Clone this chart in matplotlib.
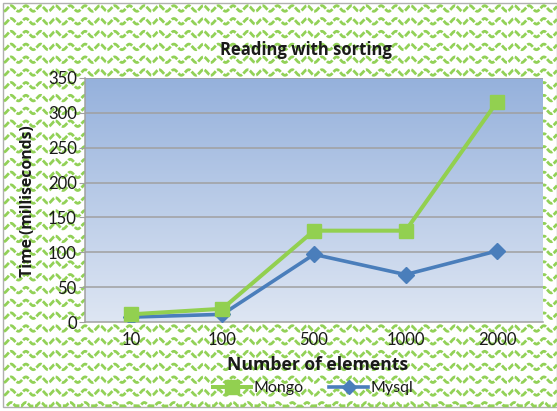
import numpy as np
import matplotlib
matplotlib.use("Agg")
import matplotlib.pyplot as plt
from matplotlib.patches import Rectangle
from matplotlib.lines import Line2D

categories = ["10", "100", "500", "1000", "2000"]
mongo = [11, 19, 131, 131, 316]
mysql = [7, 11, 97, 68, 102]
y_ticks = [0, 50, 100, 150, 200, 250, 300, 350]

W, H = 557, 411
fig = plt.figure(figsize=(W / 100, H / 100), dpi=100)
fig.patch.set_facecolor("white")

FONT = "Lato"
BOLD = "Open Sans"

# Background wave pattern drawn in pixel coordinates on a full-figure axes
bg = fig.add_axes([0, 0, 1, 1], zorder=0)
bg.set_xlim(0, W)
bg.set_ylim(H, 0)
bg.axis("off")
period, amp, spacing = 14.8, 2.8, 12.8
xs = np.linspace(4, W, 1500)
y0 = 8.5
while y0 < 410:
    ys = y0 + amp * np.sin(2 * np.pi * xs / period)
    mask = ys < 406
    bg.plot(xs[mask], ys[mask], color="#8ccf4e", lw=2.0,
            linestyle=(0, (2.4, 0.6)), alpha=0.95, solid_capstyle="butt")
    y0 += spacing
bg.add_patch(Rectangle((3, 3), W - 3, 404, fill=False, ec="#b0b0b0", lw=1.0))

# Plot area
left, right, top, bottom = 85, 543, 78, 322
ax = fig.add_axes([left / W, 1 - bottom / H, (right - left) / W, (bottom - top) / H], zorder=2)

# Vertical gradient fill
grad = np.linspace(0, 1, 256).reshape(-1, 1)
top_c = np.array([149, 177, 220]) / 255
bot_c = np.array([222, 230, 243]) / 255
img = top_c * (1 - grad[..., None]) + bot_c * grad[..., None]
img = np.repeat(img, 2, axis=1)
ax.imshow(img, extent=[-0.5, 4.5, 0, 350], aspect="auto", zorder=0, origin="upper")

x = np.arange(len(categories))
ax.set_xlim(-0.5, 4.5)
ax.set_ylim(0, 350)
for t in y_ticks[1:]:
    ax.axhline(t, color="#a0a0a0", lw=1.1, zorder=1)

ax.plot(x, mysql, color="#4a7ebb", lw=2.6, marker="D", ms=8, zorder=3, label="Mysql")
ax.plot(x, mongo, color="#92d050", lw=2.9, marker="s", ms=9.5, zorder=4, label="Mongo")

ax.set_xticks(x)
ax.set_xticklabels(categories)
ax.set_yticks(y_ticks)
for s in ["top", "right"]:
    ax.spines[s].set_visible(False)
ax.spines["left"].set_color("#a0a0a0")
ax.spines["bottom"].set_color("#a0a0a0")
ax.spines["left"].set_linewidth(1.1)
ax.spines["bottom"].set_linewidth(1.1)
ax.tick_params(axis="y", length=4, color="#a0a0a0", labelsize=12, pad=2, labelcolor="#1a1a1a")
ax.tick_params(axis="x", length=0, labelsize=12, pad=7, labelcolor="#1a1a1a")
for lab in ax.get_xticklabels() + ax.get_yticklabels():
    lab.set_fontfamily(FONT)

fig.text(306 / W, 1 - 50 / H, "Reading with sorting", ha="center", va="center",
         fontsize=12, fontweight="bold", family=BOLD, color="#1a1a1a")
fig.text(318 / W, 1 - 365 / H, "Number of elements", ha="center", va="center",
         fontsize=12.6, fontweight="bold", family=BOLD, color="#1a1a1a")
fig.text(28 / W, 1 - 201 / H, "Time (milliseconds)", ha="center", va="center",
         rotation=90, fontsize=11.3, fontweight="bold", family=BOLD, color="#1a1a1a")

# Legend
handles = [Line2D([], [], color="#92d050", lw=2.9, marker="s", ms=9.5),
           Line2D([], [], color="#4a7ebb", lw=2.6, marker="D", ms=7)]
leg = fig.legend(handles, ["Mongo", "Mysql"], loc="center", ncol=2,
                 bbox_to_anchor=(313 / W, 1 - 388 / H), frameon=False,
                 prop={"family": FONT, "size": 11.5}, handlelength=2.4,
                 handletextpad=0.15, columnspacing=1.6)
for t in leg.get_texts():
    t.set_color("#1a1a1a")

fig.savefig("out.png", dpi=100)
